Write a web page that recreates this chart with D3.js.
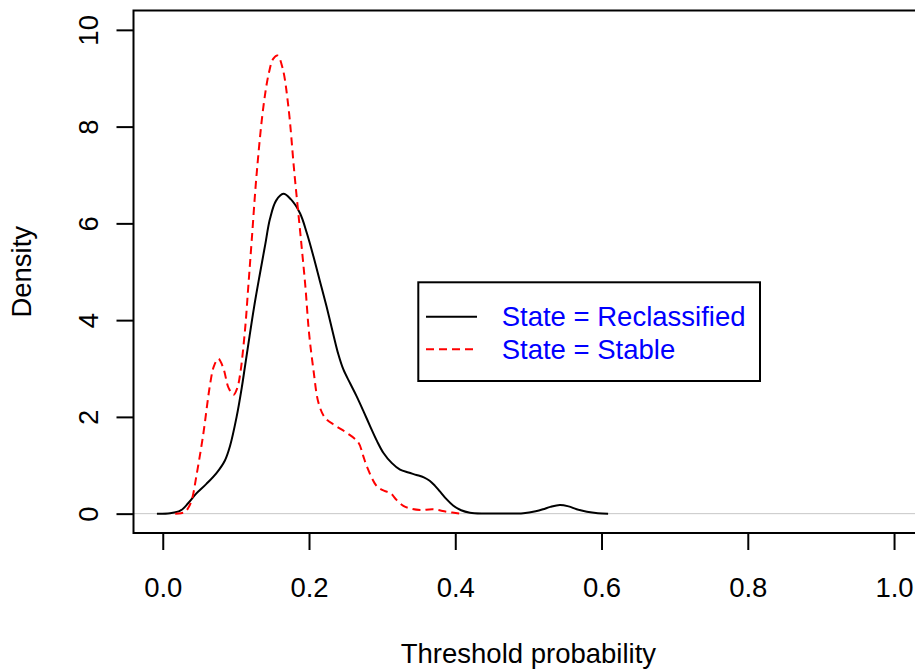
<!DOCTYPE html>
<html><head><meta charset="utf-8">
<script src="https://cdn.jsdelivr.net/npm/d3@7"></script>
<style>body{margin:0;background:#fff}svg{display:block}text{font-family:"Liberation Sans",Arial,sans-serif}</style>
</head><body>
<svg id="c" width="915" height="671"></svg>
<script>
const xTicks = [0, 0.2, 0.4, 0.6, 0.8, 1.0];
const yTicks = [0, 2, 4, 6, 8, 10];
const xTitle = "Threshold probability";
const yTitle = "Density";
const seriesNames = ["State = Reclassified", "State = Stable"];

const reclassX = [-0.008,0.01,0.024,0.035,0.046,0.06,0.074,0.085,0.092,0.101,0.108,0.1125,0.117,0.125,0.133,0.14,0.1467,0.155,0.165,0.175,0.1877,0.197,0.206,0.215,0.224,0.233,0.24,0.247,0.256,0.265,0.275,0.2835,0.293,0.3016,0.313,0.3245,0.336,0.347,0.357,0.365,0.372,0.379,0.388,0.397,0.408,0.42,0.44,0.47,0.493,0.51,0.52,0.53,0.543,0.555,0.566,0.58,0.595,0.609];
const reclassY = [0,0.01,0.06,0.22,0.42,0.62,0.85,1.1,1.4,2.0,2.6,3.05,3.5,4.28,4.97,5.55,6.1,6.47,6.61,6.5,6.21,5.8,5.32,4.8,4.28,3.72,3.3,2.98,2.7,2.43,2.1,1.81,1.5,1.26,1.05,0.91,0.85,0.8,0.75,0.68,0.58,0.46,0.3,0.17,0.07,0.02,0.003,0.002,0.01,0.05,0.09,0.14,0.18,0.15,0.09,0.04,0.01,0];
const stableX = [0.017,0.025,0.03,0.035,0.04,0.046,0.055,0.065,0.07,0.076,0.083,0.09,0.097,0.102,0.106,0.1125,0.117,0.1217,0.1285,0.1376,0.145,0.151,0.157,0.164,0.1718,0.18,0.189,0.195,0.2,0.206,0.213,0.222,0.236,0.2516,0.2675,0.274,0.279,0.2926,0.303,0.311,0.32,0.329,0.34,0.352,0.37,0.388,0.407];
const stableY = [0,0.01,0.03,0.12,0.3,0.78,1.6,2.7,3.05,3.2,3.0,2.6,2.46,2.6,2.9,3.8,4.7,5.66,7.04,8.41,9.1,9.4,9.47,9.2,8.41,7.04,5.66,4.7,3.74,2.98,2.29,1.98,1.82,1.67,1.47,1.2,0.98,0.57,0.47,0.43,0.28,0.16,0.1,0.075,0.09,0.04,0];

const svg = d3.select("#c");
const x = d3.scaleLinear().domain([-0.04, 1.04]).range([133.5, 923.3]);
const y = d3.scaleLinear().domain([-0.4, 10.4]).range([533, 10.5]);
const fs = 27.5;

// zero line
svg.append("line").attr("x1", x(-0.04)).attr("x2", x(1.04)).attr("y1", y(0)).attr("y2", y(0))
  .attr("stroke", "#c8c8c8").attr("stroke-width", 1);

const line = d3.line().x(d => x(d[0])).y(d => y(d[1])).curve(d3.curveCatmullRom.alpha(0.5));
const rec = reclassX.map((v, i) => [v, reclassY[i]]);
const sta = stableX.map((v, i) => [v, stableY[i]]);
svg.append("path").attr("d", line(rec)).attr("fill", "none").attr("stroke", "#000").attr("stroke-width", 2);
svg.append("path").attr("d", line(sta)).attr("fill", "none").attr("stroke", "#ff0000").attr("stroke-width", 2).attr("stroke-dasharray", "8,5");

// box
svg.append("rect").attr("x", 133.5).attr("y", 10.5).attr("width", 923.3 - 133.5).attr("height", 533 - 10.5)
  .attr("fill", "none").attr("stroke", "#000").attr("stroke-width", 2);

// x axis
const xa = svg.append("g").attr("transform", `translate(0,${533})`)
  .call(d3.axisBottom(x).tickValues(xTicks).tickSize(17).tickPadding(0).tickFormat(d3.format(".1f")));
xa.select(".domain").remove();
xa.selectAll(".tick line").attr("stroke", "#000").attr("stroke-width", 2);
xa.selectAll(".tick text").attr("y", 596.7 - 533).attr("dy", null).attr("font-size", fs).attr("fill", "#000")
  .style("font-family", '"Liberation Sans",Arial,sans-serif');

// y axis
const ya = svg.append("g").attr("transform", `translate(${133.5},0)`)
  .call(d3.axisLeft(y).tickValues(yTicks).tickSize(17).tickFormat(d3.format("d")));
ya.select(".domain").remove();
ya.selectAll(".tick line").attr("stroke", "#000").attr("stroke-width", 2);
ya.selectAll(".tick text").attr("x", null).attr("dy", null).attr("text-anchor", "middle")
  .attr("transform", `translate(${97.5 - 133.5},0) rotate(-90)`)
  .attr("font-size", fs).attr("fill", "#000")
  .style("font-family", '"Liberation Sans",Arial,sans-serif');

// titles
svg.append("text").attr("x", (133.5 + 923.3) / 2).attr("y", 663).attr("text-anchor", "middle")
  .attr("font-size", fs).text(xTitle);
svg.append("text").attr("transform", `translate(31,${(10.5 + 533) / 2}) rotate(-90)`).attr("text-anchor", "middle")
  .attr("font-size", fs).text(yTitle);

// legend
const lg = svg.append("g");
lg.append("rect").attr("x", 418.3).attr("y", 282.3).attr("width", 760 - 418.3).attr("height", 381 - 282.3)
  .attr("fill", "#fff").attr("stroke", "#000").attr("stroke-width", 2);
const rowsY = [316.7, 349.3];
const styles = [{c: "#000", d: null}, {c: "#ff0000", d: "8,5"}];
seriesNames.forEach((n, i) => {
  lg.append("line").attr("x1", 426).attr("x2", 477).attr("y1", rowsY[i]).attr("y2", rowsY[i])
    .attr("stroke", styles[i].c).attr("stroke-width", 2).attr("stroke-dasharray", styles[i].d);
  lg.append("text").attr("x", 501.7).attr("y", rowsY[i]).attr("dy", "0.35em").attr("font-size", fs)
    .attr("fill", "#0000ff").text(n);
});
</script>
</body></html>
